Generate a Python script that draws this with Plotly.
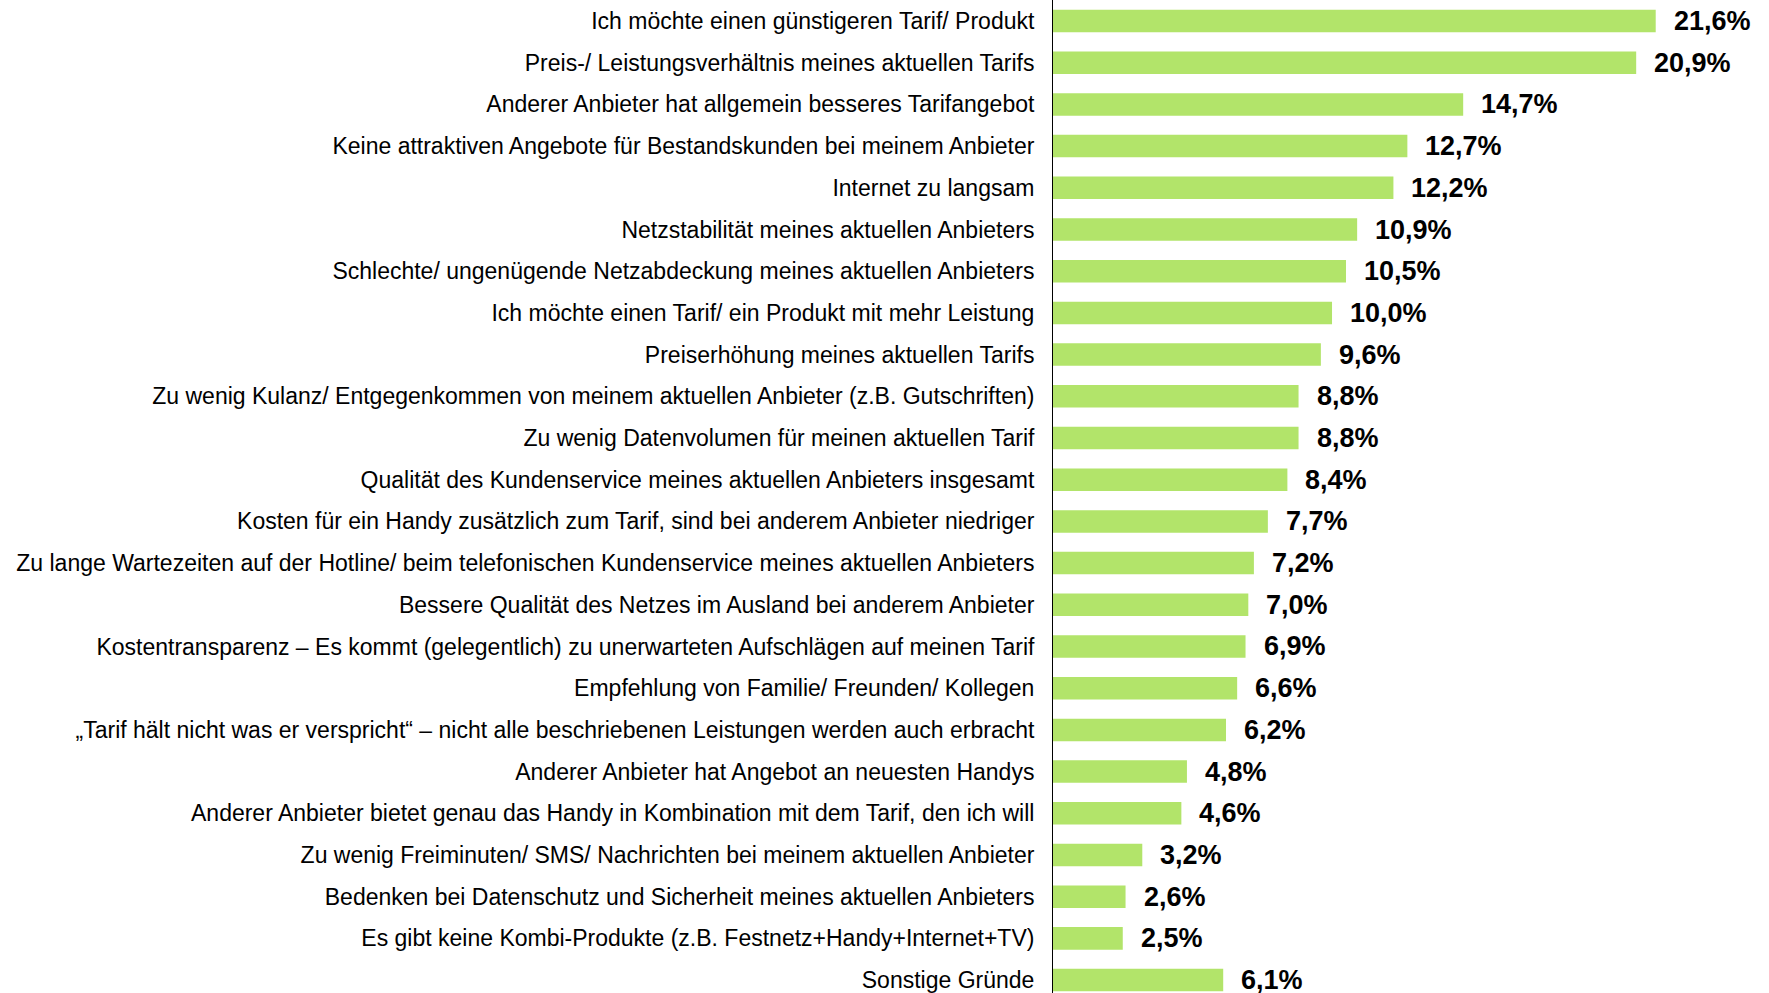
import plotly.graph_objects as go

categories = [
    "Ich möchte einen günstigeren Tarif/ Produkt",
    "Preis-/ Leistungsverhältnis meines aktuellen Tarifs",
    "Anderer Anbieter hat allgemein besseres Tarifangebot",
    "Keine attraktiven Angebote für Bestandskunden bei meinem Anbieter",
    "Internet zu langsam",
    "Netzstabilität meines aktuellen Anbieters",
    "Schlechte/ ungenügende Netzabdeckung meines aktuellen Anbieters",
    "Ich möchte einen Tarif/ ein Produkt mit mehr Leistung",
    "Preiserhöhung meines aktuellen Tarifs",
    "Zu wenig Kulanz/ Entgegenkommen von meinem aktuellen Anbieter (z.B. Gutschriften)",
    "Zu wenig Datenvolumen für meinen aktuellen Tarif",
    "Qualität des Kundenservice meines aktuellen Anbieters insgesamt",
    "Kosten für ein Handy zusätzlich zum Tarif, sind bei anderem Anbieter niedriger",
    "Zu lange Wartezeiten auf der Hotline/ beim telefonischen Kundenservice meines aktuellen Anbieters",
    "Bessere Qualität des Netzes im Ausland bei anderem Anbieter",
    "Kostentransparenz – Es kommt (gelegentlich) zu unerwarteten Aufschlägen auf meinen Tarif",
    "Empfehlung von Familie/ Freunden/ Kollegen",
    "„Tarif hält nicht was er verspricht“ – nicht alle beschriebenen Leistungen werden auch erbracht",
    "Anderer Anbieter hat Angebot an neuesten Handys",
    "Anderer Anbieter bietet genau das Handy in Kombination mit dem Tarif, den ich will",
    "Zu wenig Freiminuten/ SMS/ Nachrichten bei meinem aktuellen Anbieter",
    "Bedenken bei Datenschutz und Sicherheit meines aktuellen Anbieters",
    "Es gibt keine Kombi-Produkte (z.B. Festnetz+Handy+Internet+TV)",
    "Sonstige Gründe",
]
values = [21.6, 20.9, 14.7, 12.7, 12.2, 10.9, 10.5, 10.0, 9.6, 8.8, 8.8, 8.4,
          7.7, 7.2, 7.0, 6.9, 6.6, 6.2, 4.8, 4.6, 3.2, 2.6, 2.5, 6.1]
labels = [f"{v:.1f}".replace(".", ",") + "%" for v in values]

FONT = "Liberation Sans, Arial, sans-serif"

fig = go.Figure(go.Bar(
    x=values, y=categories, orientation="h",
    marker=dict(color="#b2e46a", line=dict(width=0)),
    width=0.54, hoverinfo="skip", cliponaxis=False,
))

annotations = [
    dict(x=v, y=c, text=f"<b>{t}</b>", xref="x", yref="y", showarrow=False,
         xanchor="left", yanchor="middle", xshift=16,
         font=dict(family=FONT, size=27, color="#000000"))
    for v, c, t in zip(values, categories, labels)
]

fig.update_layout(
    width=1769, height=993,
    margin=dict(l=1053, r=0, t=0, b=0, autoexpand=False),
    plot_bgcolor="white", paper_bgcolor="white",
    showlegend=False,
    hovermode=False,
    annotations=annotations,
    xaxis=dict(range=[0, 25.66], visible=False, showgrid=False, zeroline=False),
    yaxis=dict(
        type="category", categoryorder="array", categoryarray=categories,
        range=[23.31, -0.504], showgrid=False, zeroline=False, automargin=False,
        showline=True, linecolor="#000000", linewidth=1,
        ticks="", ticklabelstandoff=13,
        tickfont=dict(family=FONT, size=23, color="#000000"),
    ),
)

fig.write_html(
    "out.html",
    config={"displayModeBar": False, "staticPlot": True},
    post_script="document.body.style.margin='0';document.body.style.overflow='hidden';",
)
